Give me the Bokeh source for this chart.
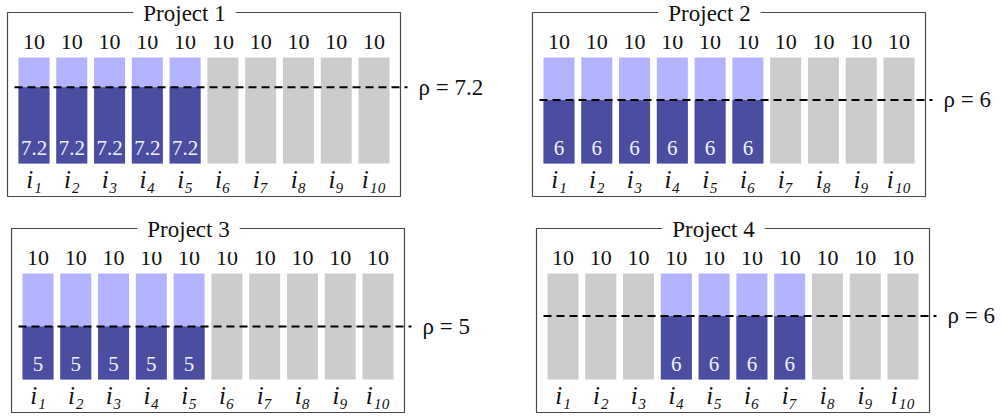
from bokeh.plotting import figure
from bokeh.layouts import column, row
from bokeh.models import Range1d
from bokeh.core.properties import value
from bokeh.embed import file_html
from bokeh.resources import INLINE

# ---------------- data ----------------
projects = ["Project 1", "Project 2", "Project 3", "Project 4"]
items = ["i₁", "i₂", "i₃", "i₄", "i₅", "i₆", "i₇", "i₈", "i₉", "i₁₀"]
capacity_p1 = [10, 10, 10, 10, 10, 10, 10, 10, 10, 10]
capacity_p2 = [10, 10, 10, 10, 10, 10, 10, 10, 10, 10]
capacity_p3 = [10, 10, 10, 10, 10, 10, 10, 10, 10, 10]
capacity_p4 = [10, 10, 10, 10, 10, 10, 10, 10, 10, 10]
alloc_p1 = [7.2, 7.2, 7.2, 7.2, 7.2, 0, 0, 0, 0, 0]
alloc_p2 = [6, 6, 6, 6, 6, 6, 0, 0, 0, 0]
alloc_p3 = [5, 5, 5, 5, 5, 0, 0, 0, 0, 0]
alloc_p4 = [0, 0, 0, 6, 6, 6, 6, 0, 0, 0]
rho = [7.2, 6, 5, 6]

# ---------------- style / layout ----------------
FONT = "Liberation Serif"
DARK = "#4B4DA1"
LIGHT = "#B3B3FF"
GRAY = "#CCCCCC"
PITCH = 37.78    # px between bar centres
BAR_W = 31.0     # px bar width
UNIT = 10.6      # px per value unit
BAR0 = 26.5      # px from box left to first bar centre
BASE = 151.0     # px from box top to value 0

# (fig_left, fig_top, fig_w, fig_h, box_left, box_top) in page pixels
panels = [
    (0, 0, 500, 208, 7, 12),
    (500, 0, 503, 208, 532, 12),
    (0, 208, 500, 208, 11, 228),
    (500, 208, 503, 208, 536, 228),
]
capacities = [capacity_p1, capacity_p2, capacity_p3, capacity_p4]
allocs = [alloc_p1, alloc_p2, alloc_p3, alloc_p4]


def bx(dx):
    return 1 + (dx - BAR0) / PITCH


def by(dy):
    return (BASE - dy) / UNIT


def fmt(v):
    return f"{v:g}"


figs = []
for name, cap, alloc, r, (Fx, Fy, W, H, L, T) in zip(projects, capacities, allocs, rho, panels):
    x0 = 1 - (L + BAR0 - Fx) / PITCH
    x1 = x0 + W / PITCH
    yt = (T + BASE - Fy) / UNIT
    yb = yt - H / UNIT
    p = figure(width=W, height=H, x_range=Range1d(x0, x1), y_range=Range1d(yb, yt),
               output_backend="svg", toolbar_location=None, min_border=0,
               x_axis_location=None, y_axis_location=None)
    p.grid.visible = False
    p.outline_line_color = None
    p.background_fill_color = "white"
    p.border_fill_color = "white"

    xs = list(range(1, len(cap) + 1))
    # frame box
    p.quad(left=[bx(0)], right=[bx(393)], top=[by(0)], bottom=[by(184)],
           fill_color=None, line_color="#4a4a4a", line_width=1.2)
    # capacity bars
    colors = [LIGHT if a > 0 else GRAY for a in alloc]
    p.vbar(x=xs, top=cap, bottom=0, width=BAR_W / PITCH, fill_color=colors, line_color=None)
    sx = [x for x, a in zip(xs, alloc) if a > 0]
    sa = [a for a in alloc if a > 0]
    p.vbar(x=sx, top=sa, bottom=0, width=BAR_W / PITCH, fill_color=DARK, line_color=None)
    # threshold line
    p.segment(x0=[bx(7)], x1=[bx(400)], y0=[r], y1=[r], line_color="black",
              line_width=2, line_dash="8 5")
    # capacity labels
    p.text(x=xs, y=cap, text=[fmt(c) for c in cap], y_offset=-16,
           text_align="center", text_baseline="middle", text_font=value(FONT),
           text_font_size="22px", text_color="#111111")
    # allocation labels
    p.text(x=sx, y=[0] * len(sx), text=[fmt(a) for a in sa], y_offset=-16,
           text_align="center", text_baseline="middle", text_font=value(FONT),
           text_font_size="21px", text_color="#F0F0FF")
    # item labels
    p.text(x=xs, y=[0] * len(xs), text=items, y_offset=16,
           text_align="center", text_baseline="middle", text_font=value(FONT),
           text_font_style="italic", text_font_size="25px", text_color="#111111")
    # rho label
    p.text(x=[bx(411)], y=[r], text=[f"ρ = {fmt(r)}"], text_align="left",
           text_baseline="middle", text_font=value(FONT), text_font_size="23px",
           text_color="#111111")
    # title on frame
    p.text(x=[bx(177)], y=[by(1)], text=[name], text_align="center",
           text_baseline="middle", text_font=value(FONT), text_font_size="23px",
           text_color="#111111", background_fill_color="white", padding=10)
    figs.append(p)

layout = column(row(figs[0], figs[1]), row(figs[2], figs[3]))

open("out.html", "w").write(file_html(layout, INLINE))
